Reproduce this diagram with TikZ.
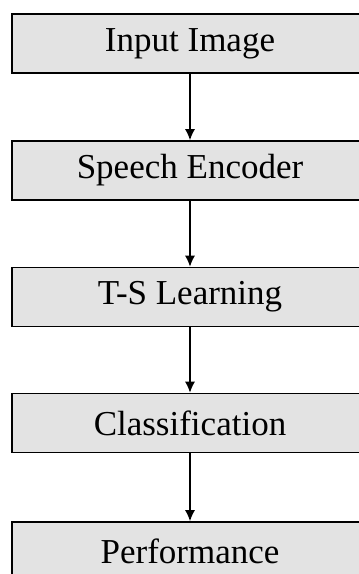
\documentclass[tikz,border=0pt]{standalone}
\usepackage{fontspec}
\setmainfont{Liberation Serif}
\usetikzlibrary{arrows.meta}
\begin{document}
\begin{tikzpicture}[x=1pt, y=1pt]
			\tikzset{bloc/.style={rectangle, draw=black, fill=black!11, line width=1.6pt, minimum width=356pt, minimum height=59pt, inner sep=0pt, font=\fontsize{35}{42}\selectfont}, fleche/.style={>={Latex[length=11pt, width=10pt]}, ->, line width=1.4pt}};

			\useasboundingbox (0,0) rectangle (359,-574);
			\clip (0,0) rectangle (359,-574);

			\node[bloc] (entree)  at (190,  -43.5) {Input Image};
			\node[bloc] (codeur)  at (190, -170.5) {Speech Encoder};
			\node[bloc] (ts)      at (190, -297  ) {T-S Learning};
			\node[bloc] (classif) at (190, -423  ) {Classification};
			\node[bloc] (perf)    at (190, -551.5) {Performance};

			\draw[fleche] (entree) to (codeur);
			\draw[fleche] (codeur) to (ts);
			\draw[fleche] (ts) to (classif);
			\draw[fleche] (classif) to (perf);
\end{tikzpicture}
\end{document}
